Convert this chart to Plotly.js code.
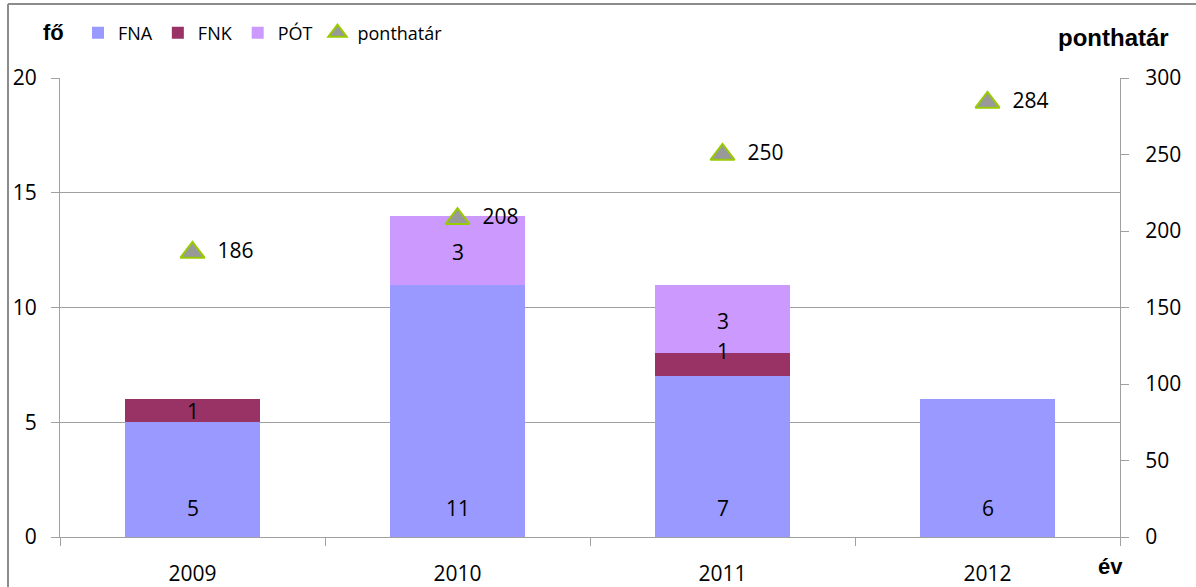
<!DOCTYPE html>
<html>
<head>
<meta charset="utf-8">
<script src="https://cdn.plot.ly/plotly-3.0.1.min.js"></script>
<style>html,body{margin:0;padding:0;background:#fff;}</style>
</head>
<body>
<div id="chart" style="width:1196px;height:587px;"></div>
<script>
const years = ['2009', '2010', '2011', '2012'];
const fna = [5, 11, 7, 6];
const fnk = [1, null, 1, null];
const pot = [null, 3, 3, null];
const ponthatar = [186, 208, 250, 284];

const W = 1196, H = 587;
const M = {l: 60, r: 76, t: 78, b: 50};
const PW = W - M.l - M.r, PH = H - M.t - M.b;
const px = x => (x - M.l) / PW;
const py = y => (H - M.b - y) / PH;

const FONT = '"Open Sans", "Noto Sans", sans-serif';
const BOLD = '"Liberation Sans", Arial, sans-serif';
const LBL = {family: FONT, size: 21, color: '#000'};

const barW = 0.51;
const traces = [
  {type: 'bar', name: 'FNA', x: years, y: fna, width: barW, marker: {color: '#9999FF'}, hoverinfo: 'y'},
  {type: 'bar', name: 'FNK', x: years, y: fnk, width: barW, marker: {color: '#993366'}, hoverinfo: 'y'},
  {type: 'bar', name: 'PÓT', x: years, y: pot, width: barW, marker: {color: '#CC99FF'}, hoverinfo: 'y'},
  {type: 'scatter', mode: 'markers+text', name: 'ponthatár', x: years, y: ponthatar, yaxis: 'y2',
   text: ponthatar.map(v => '\u00a0\u00a0' + v), textposition: 'middle right', textfont: LBL,
   marker: {symbol: 'triangle-up', size: 21, color: '#999999', line: {color: '#99CC00', width: 2}}}
];

const annotations = [];
years.forEach((yr, i) => {
  annotations.push({x: i, y: 0, yshift: 29, text: String(fna[i]), showarrow: false, font: LBL, yanchor: 'middle'});
  if (fnk[i] != null) {
    annotations.push({x: i, y: fna[i] + fnk[i] / 2, yshift: (pot[i] != null ? 14 : 0), text: String(fnk[i]), showarrow: false, font: LBL, yanchor: 'middle'});
  }
  if (pot[i] != null) {
    const base = fna[i] + (fnk[i] || 0);
    annotations.push({x: i, y: base + pot[i] / 2, yshift: -2, text: String(pot[i]), showarrow: false, font: LBL, yanchor: 'middle'});
  }
});
const titleFont = {family: BOLD, size: 22, color: '#000', weight: 'bold'};
annotations.push({xref: 'paper', yref: 'paper', x: px(53), y: py(33), text: '<b>fő</b>', showarrow: false, font: titleFont, xanchor: 'center', yanchor: 'middle'});
annotations.push({xref: 'paper', yref: 'paper', x: px(1113), y: py(37), text: '<b>ponthatár</b>', showarrow: false, font: Object.assign({}, titleFont, {size: 24}), xanchor: 'center', yanchor: 'middle'});
annotations.push({xref: 'paper', yref: 'paper', x: px(1110), y: py(566), text: '<b>év</b>', showarrow: false, font: titleFont, xanchor: 'center', yanchor: 'middle'});

const axisCol = '#A0A0A0';
const layout = {
  width: W, height: H,
  margin: M,
  paper_bgcolor: '#fff', plot_bgcolor: '#fff',
  barmode: 'stack',
  showlegend: true,
  legend: {orientation: 'h', x: px(78), y: py(33), xanchor: 'left', yanchor: 'middle',
           font: {family: FONT, size: 18, color: '#000'}, bgcolor: 'rgba(0,0,0,0)', traceorder: 'normal'},
  xaxis: {type: 'category', range: [-0.5, 3.5], showgrid: false, showline: true, linecolor: axisCol, linewidth: 1,
          ticks: 'outside', ticklen: 8, tickcolor: axisCol, tickson: 'boundaries',
          tickfont: LBL, ticklabelstandoff: 18, zeroline: false, tickangle: 0},
  yaxis: {range: [0, 20], dtick: 5, showgrid: true, gridcolor: axisCol, showline: true, linecolor: axisCol,
          ticks: 'outside', ticklen: 8, tickcolor: axisCol, tickfont: LBL, ticklabelstandoff: 10, zeroline: false},
  yaxis2: {range: [0, 300], dtick: 50, overlaying: 'y', side: 'right', showgrid: false, showline: true,
           linecolor: axisCol, ticks: 'outside', ticklen: 8, tickcolor: axisCol, tickfont: LBL,
           ticklabelstandoff: 12, zeroline: false},
  annotations: annotations,
  shapes: [
    {type: 'line', xref: 'paper', yref: 'paper', x0: px(8), x1: px(W + 10), y0: py(4), y1: py(4), line: {color: '#8C8C8C', width: 2}},
    {type: 'line', xref: 'paper', yref: 'paper', x0: px(8), x1: px(8), y0: py(4), y1: py(H + 10), line: {color: '#8C8C8C', width: 2}}
  ]
};

Plotly.newPlot('chart', traces, layout, {displayModeBar: false, staticPlot: true});
</script>
</body>
</html>
